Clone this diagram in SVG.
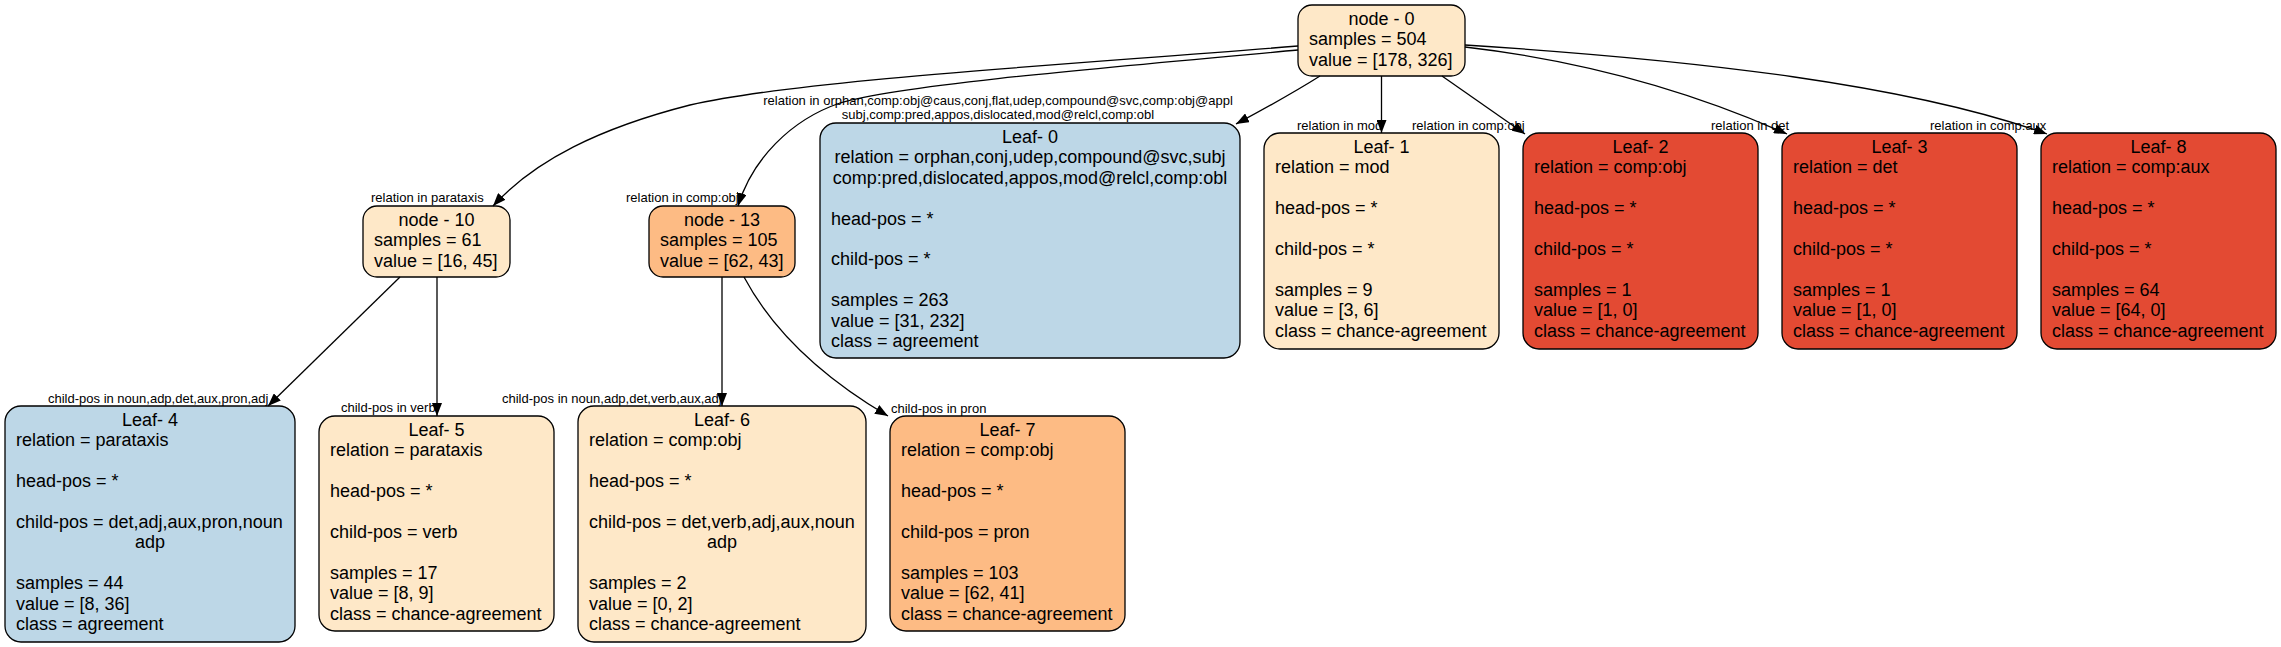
<svg xmlns="http://www.w3.org/2000/svg" width="2281" height="647" viewBox="0 0 2281 647">
<style>
text{font-family:"Liberation Sans",Arial,Helvetica,sans-serif;font-size:18px;fill:#000}
.c{text-anchor:middle}
.el{font-size:13px}
.box{stroke:#000;stroke-width:1.3}
.lt{fill:#fee8c8}.md{fill:#fdbb84}.rd{fill:#e34a33}.bl{fill:#bdd7e7}
.e{fill:none;stroke:#000;stroke-width:1.3;marker-end:url(#ah)}
</style>
<defs>
<marker id="ah" markerUnits="userSpaceOnUse" markerWidth="14" markerHeight="10" refX="13" refY="5" orient="auto">
<path d="M0,0 L13,5 L0,10 Z" fill="#000"/>
</marker>
</defs>
<rect width="2281" height="647" fill="#fff"/>

<g id="node0">
<rect class="box lt" x="1298" y="5" width="167" height="71" rx="14"/>
<text class="c" x="1381.5" y="25">node - 0</text>
<text x="1309" y="45.4">samples = 504</text>
<text x="1309" y="65.8">value = [178, 326]</text>
</g>

<g id="node10">
<rect class="box lt" x="363" y="206" width="147" height="71" rx="14"/>
<text class="c" x="436.5" y="226">node - 10</text>
<text x="374" y="246.4">samples = 61</text>
<text x="374" y="266.8">value = [16, 45]</text>
</g>

<g id="node13">
<rect class="box md" x="649" y="206" width="146" height="71" rx="14"/>
<text class="c" x="722" y="226">node - 13</text>
<text x="660" y="246.4">samples = 105</text>
<text x="660" y="266.8">value = [62, 43]</text>
</g>

<g id="leaf0">
<rect class="box bl" x="820" y="123" width="420" height="235" rx="16"/>
<text class="c" x="1030" y="143">Leaf- 0</text>
<text class="c" x="1030" y="163.4">relation = orphan,conj,udep,compound@svc,subj</text>
<text class="c" x="1030" y="183.8">comp:pred,dislocated,appos,mod@relcl,comp:obl</text>
<text x="831" y="224.6">head-pos = *</text>
<text x="831" y="265.4">child-pos = *</text>
<text x="831" y="306.2">samples = 263</text>
<text x="831" y="326.6">value = [31, 232]</text>
<text x="831" y="347">class = agreement</text>
</g>

<g id="leaf1">
<rect class="box lt" x="1264" y="133" width="235" height="216" rx="16"/>
<text class="c" x="1381.5" y="153">Leaf- 1</text>
<text x="1275" y="173.4">relation = mod</text>
<text x="1275" y="214.2">head-pos = *</text>
<text x="1275" y="255">child-pos = *</text>
<text x="1275" y="295.8">samples = 9</text>
<text x="1275" y="316.2">value = [3, 6]</text>
<text x="1275" y="336.6">class = chance-agreement</text>
</g>

<g id="leaf2">
<rect class="box rd" x="1523" y="133" width="235" height="216" rx="16"/>
<text class="c" x="1640.5" y="153">Leaf- 2</text>
<text x="1534" y="173.4">relation = comp:obj</text>
<text x="1534" y="214.2">head-pos = *</text>
<text x="1534" y="255">child-pos = *</text>
<text x="1534" y="295.8">samples = 1</text>
<text x="1534" y="316.2">value = [1, 0]</text>
<text x="1534" y="336.6">class = chance-agreement</text>
</g>

<g id="leaf3">
<rect class="box rd" x="1782" y="133" width="235" height="216" rx="16"/>
<text class="c" x="1899.5" y="153">Leaf- 3</text>
<text x="1793" y="173.4">relation = det</text>
<text x="1793" y="214.2">head-pos = *</text>
<text x="1793" y="255">child-pos = *</text>
<text x="1793" y="295.8">samples = 1</text>
<text x="1793" y="316.2">value = [1, 0]</text>
<text x="1793" y="336.6">class = chance-agreement</text>
</g>

<g id="leaf8">
<rect class="box rd" x="2041" y="133" width="235" height="216" rx="16"/>
<text class="c" x="2158.5" y="153">Leaf- 8</text>
<text x="2052" y="173.4">relation = comp:aux</text>
<text x="2052" y="214.2">head-pos = *</text>
<text x="2052" y="255">child-pos = *</text>
<text x="2052" y="295.8">samples = 64</text>
<text x="2052" y="316.2">value = [64, 0]</text>
<text x="2052" y="336.6">class = chance-agreement</text>
</g>

<g id="leaf4">
<rect class="box bl" x="5" y="406" width="290" height="236" rx="16"/>
<text class="c" x="150" y="426">Leaf- 4</text>
<text x="16" y="446.4">relation = parataxis</text>
<text x="16" y="487.2">head-pos = *</text>
<text x="16" y="528">child-pos = det,adj,aux,pron,noun</text>
<text class="c" x="150" y="548.4">adp</text>
<text x="16" y="589.2">samples = 44</text>
<text x="16" y="609.6">value = [8, 36]</text>
<text x="16" y="630">class = agreement</text>
</g>

<g id="leaf5">
<rect class="box lt" x="319" y="416" width="235" height="215" rx="16"/>
<text class="c" x="436.5" y="436">Leaf- 5</text>
<text x="330" y="456.4">relation = parataxis</text>
<text x="330" y="497.2">head-pos = *</text>
<text x="330" y="538">child-pos = verb</text>
<text x="330" y="578.8">samples = 17</text>
<text x="330" y="599.2">value = [8, 9]</text>
<text x="330" y="619.6">class = chance-agreement</text>
</g>

<g id="leaf6">
<rect class="box lt" x="578" y="406" width="288" height="236" rx="16"/>
<text class="c" x="722" y="426">Leaf- 6</text>
<text x="589" y="446.4">relation = comp:obj</text>
<text x="589" y="487.2">head-pos = *</text>
<text x="589" y="528">child-pos = det,verb,adj,aux,noun</text>
<text class="c" x="722" y="548.4">adp</text>
<text x="589" y="589.2">samples = 2</text>
<text x="589" y="609.6">value = [0, 2]</text>
<text x="589" y="630">class = chance-agreement</text>
</g>

<g id="leaf7">
<rect class="box md" x="890" y="416" width="235" height="215" rx="16"/>
<text class="c" x="1007.5" y="436">Leaf- 7</text>
<text x="901" y="456.4">relation = comp:obj</text>
<text x="901" y="497.2">head-pos = *</text>
<text x="901" y="538">child-pos = pron</text>
<text x="901" y="578.8">samples = 103</text>
<text x="901" y="599.2">value = [62, 41]</text>
<text x="901" y="619.6">class = chance-agreement</text>
</g>

<g id="connectors">
<text class="el" x="371" y="202">relation in parataxis</text>
<text class="el" x="626" y="202">relation in comp:obj</text>
<text class="el c" x="998" y="105">relation in orphan,comp:obj@caus,conj,flat,udep,compound@svc,comp:obj@appl</text>
<text class="el c" x="998" y="119">subj,comp:pred,appos,dislocated,mod@relcl,comp:obl</text>
<text class="el" x="1297" y="130">relation in mod</text>
<text class="el" x="1412" y="130">relation in comp:obj</text>
<text class="el" x="1711" y="130">relation in det</text>
<text class="el" x="1930" y="130">relation in comp:aux</text>
<text class="el" x="48" y="403">child-pos in noun,adp,det,aux,pron,adj</text>
<text class="el" x="341" y="412">child-pos in verb</text>
<text class="el" x="502" y="403">child-pos in noun,adp,det,verb,aux,adj</text>
<text class="el" x="891" y="413">child-pos in pron</text>

<path class="e" d="M1298,46 C1050,66 800,80 690,105 C600,128 535,160 493,206"/>
<path class="e" d="M1298,50 C1100,68 900,85 840,103 C790,120 752,160 738,206"/>
<path class="e" d="M1320,76 C1290,95 1262,110 1236,124"/>
<path class="e" d="M1381.5,76 L1381.5,133"/>
<path class="e" d="M1442,76 L1525,134"/>
<path class="e" d="M1465,47 C1560,58 1670,82 1787,134"/>
<path class="e" d="M1465,45 C1700,60 1910,85 2047,134"/>
<path class="e" d="M400,277 L268,406"/>
<path class="e" d="M437,277 L437,416"/>
<path class="e" d="M722,277 L722,406"/>
<path class="e" d="M744,277 C768,322 810,370 888,416"/>
</g>
</svg>
